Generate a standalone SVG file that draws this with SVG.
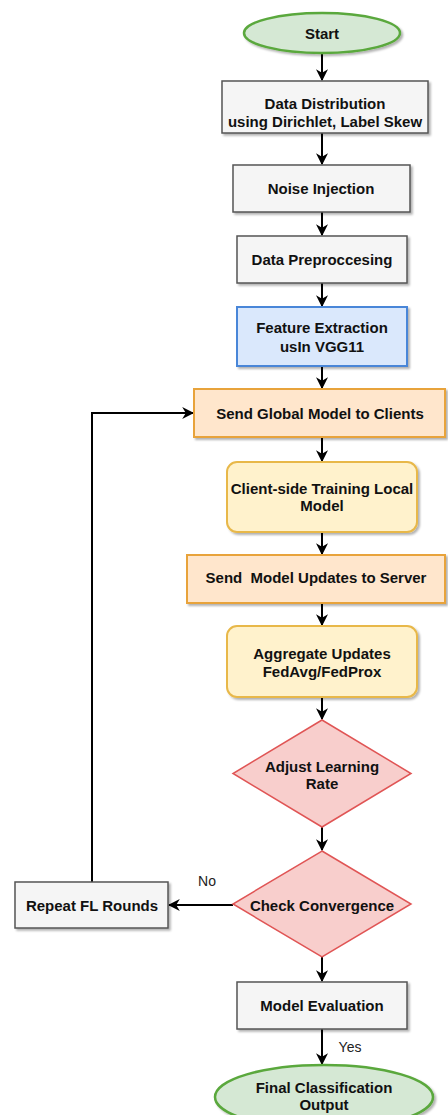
<svg xmlns="http://www.w3.org/2000/svg" width="448" height="1115" viewBox="0 0 448 1115">
<defs>
<marker id="arr" viewBox="0 0 10 10" refX="9" refY="5" markerWidth="6" markerHeight="6" orient="auto" markerUnits="strokeWidth">
<path d="M0,0 L10,5 L0,10 L3,5 z" fill="#000"/>
</marker>
<filter id="sh" x="-10%" y="-10%" width="130%" height="140%">
<feDropShadow dx="2" dy="2" stdDeviation="1.2" flood-color="#000" flood-opacity="0.3"/>
</filter>
</defs>
<style>
.t{font-family:"Liberation Sans",Arial,sans-serif;font-size:15px;font-weight:bold;fill:#111;text-anchor:middle;dominant-baseline:central}
.l{font-family:"Liberation Sans",Arial,sans-serif;font-size:14px;fill:#222;text-anchor:middle;dominant-baseline:central}
.gray{fill:#f5f5f5;stroke:#555;stroke-width:1.5;filter:url(#sh)}
.blue{fill:#dae8fc;stroke:#4a86d8;stroke-width:2;filter:url(#sh)}
.orange{fill:#ffe6cc;stroke:#e8a33a;stroke-width:2;filter:url(#sh)}
.yellow{fill:#fff2cc;stroke:#e8b84a;stroke-width:2;filter:url(#sh)}
.red{fill:#f8cecc;stroke:#e05555;stroke-width:1.5}
.green{fill:#d5e8d4;stroke:#5aa83c;stroke-width:2.5;filter:url(#sh)}
.c{fill:none;stroke:#000;stroke-width:2;marker-end:url(#arr)}
</style>
<g id="connectors">
<line class="c" x1="322" y1="53" x2="322" y2="80"/>
<line class="c" x1="322" y1="133" x2="322" y2="164"/>
<line class="c" x1="322" y1="212" x2="322" y2="235"/>
<line class="c" x1="322" y1="283" x2="322" y2="306"/>
<line class="c" x1="322" y1="366" x2="322" y2="388"/>
<line class="c" x1="322" y1="437" x2="322" y2="461"/>
<line class="c" x1="322" y1="532" x2="322" y2="554"/>
<line class="c" x1="322" y1="603" x2="322" y2="625"/>
<line class="c" x1="322" y1="697" x2="322" y2="719"/>
<line class="c" x1="322" y1="827" x2="322" y2="850"/>
<line class="c" x1="322" y1="957" x2="322" y2="981"/>
<line class="c" x1="322" y1="1029" x2="322" y2="1064"/>
<line class="c" x1="233" y1="905" x2="169" y2="905"/>
<polyline class="c" points="92,882 92,413 193,413"/>
<text class="l" x="207" y="881">No</text>
<text class="l" x="350" y="1047">Yes</text>
</g>
<g id="start">
<ellipse class="green" cx="322" cy="33" rx="78" ry="20"/>
<text class="t" x="322" y="33">Start</text>
</g>
<g id="data-distribution">
<rect class="gray" x="222" y="81" width="206" height="52"/>
<text class="t" x="325" y="103">Data Distribution</text>
<text class="t" x="325" y="121">using Dirichlet, Label Skew</text>
</g>
<g id="noise-injection">
<rect class="gray" x="233" y="165" width="177" height="47"/>
<text class="t" x="321" y="188">Noise Injection</text>
</g>
<g id="data-preprocessing">
<rect class="gray" x="237" y="236" width="170" height="47"/>
<text class="t" x="322" y="259">Data Preproccesing</text>
</g>
<g id="feature-extraction">
<rect class="blue" x="237" y="307" width="170" height="59"/>
<text class="t" x="322" y="327">Feature Extraction</text>
<text class="t" x="322" y="346">usIn VGG11</text>
</g>
<g id="send-global">
<rect class="orange" x="194" y="389" width="251" height="48"/>
<text class="t" x="320" y="413">Send Global Model to Clients</text>
</g>
<g id="client-training">
<rect class="yellow" x="227" y="462" width="190" height="70" rx="10"/>
<text class="t" x="322" y="488">Client-side Training Local</text>
<text class="t" x="322" y="505">Model</text>
</g>
<g id="send-updates">
<rect class="orange" x="187" y="555" width="258" height="48"/>
<text class="t" x="316" y="577" xml:space="preserve">Send  Model Updates to Server</text>
</g>
<g id="aggregate">
<rect class="yellow" x="227" y="626" width="190" height="71" rx="10"/>
<text class="t" x="322" y="653">Aggregate Updates</text>
<text class="t" x="322" y="671">FedAvg/FedProx</text>
</g>
<g id="adjust-lr">
<polygon class="red" points="322,720 411,773.5 322,827 233,773.5"/>
<text class="t" x="322" y="766">Adjust Learning</text>
<text class="t" x="322" y="783">Rate</text>
</g>
<g id="check-convergence">
<polygon class="red" points="322,851 411,904 322,957 233,904"/>
<text class="t" x="322" y="905">Check Convergence</text>
</g>
<g id="repeat-rounds">
<rect class="gray" x="15" y="882" width="153" height="46"/>
<text class="t" x="92" y="905">Repeat FL Rounds</text>
</g>
<g id="model-evaluation">
<rect class="gray" x="237" y="982" width="170" height="47"/>
<text class="t" x="322" y="1005">Model Evaluation</text>
</g>
<g id="final-output">
<ellipse class="green" cx="324" cy="1097" rx="109" ry="32"/>
<text class="t" x="324" y="1087">Final Classification</text>
<text class="t" x="324" y="1104">Output</text>
</g>
</svg>
